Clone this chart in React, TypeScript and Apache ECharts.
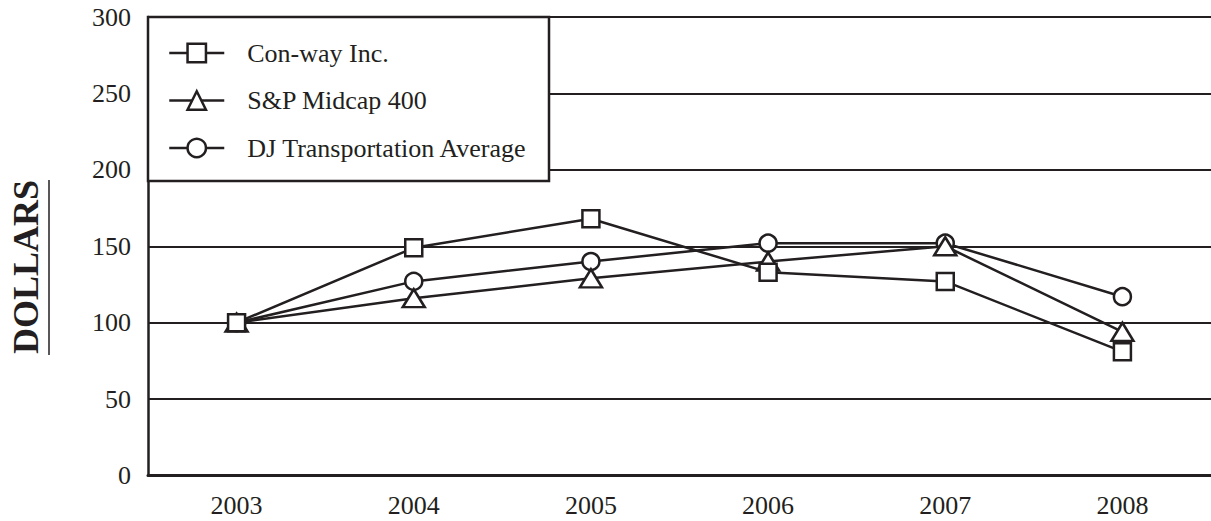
import React, { useEffect, useRef } from "react";
import * as echarts from "echarts";

const years = ["2003", "2004", "2005", "2006", "2007", "2008"];
const conway = [100, 149, 168, 133, 127, 81];
const midcap = [100, 116, 129, 140, 150, 94];
const djTrans = [100, 127, 140, 152, 152, 117];
const seriesNames = ["Con-way Inc.", "S&P Midcap 400", "DJ Transportation Average"];

const INK = "#231f20";
const FONT = "Liberation Serif, serif";

export default function App() {
  const ref = useRef<HTMLDivElement>(null);
  useEffect(() => {
    document.body.style.margin = "0";
    if (!ref.current) return;
    const chart = echarts.init(ref.current, undefined, { renderer: "svg" });
    const mk = (name: string, data: number[], symbol: string, size: any, z: number) => ({
      name,
      type: "line",
      data,
      symbol,
      symbolSize: size,
      z,
      lineStyle: { color: INK, width: 2.5 },
      itemStyle: { color: "#ffffff", borderColor: INK, borderWidth: 2.5 },
      emphasis: { disabled: true },
    });
    chart.setOption({
      animation: false,
      textStyle: { fontFamily: FONT },
      grid: { left: 148, right: 0, top: 17, bottom: 45.5, containLabel: false },
      xAxis: {
        type: "category",
        data: years,
        boundaryGap: true,
        axisLine: { lineStyle: { color: INK, width: 3 } },
        axisTick: { alignWithLabel: true, length: 10, lineStyle: { color: INK, width: 1.5 } },
        axisLabel: { color: INK, fontSize: 26, fontFamily: FONT, margin: 17 },
        splitLine: { show: false },
      },
      yAxis: {
        type: "value",
        min: 0,
        max: 300,
        interval: 50,
        axisLine: { show: true, lineStyle: { color: INK, width: 2.5 } },
        axisTick: { show: false },
        axisLabel: { color: INK, fontSize: 26, fontFamily: FONT, margin: 17 },
        splitLine: { show: true, lineStyle: { color: INK, width: 2 } },
      },
      legend: {
        data: seriesNames,
        orient: "vertical",
        left: 168,
        top: 40,
        padding: 0,
        itemWidth: 55,
        itemHeight: 23,
        itemGap: 21.5,
        z: 10,
        selectedMode: false,
        lineStyle: { color: INK, width: 2.5 },
        itemStyle: { color: "#ffffff", borderColor: INK, borderWidth: 2.5 },
        textStyle: { color: INK, fontSize: 26, lineHeight: 26, fontFamily: FONT, padding: [0, 0, 0, 18] },
      },
      graphic: [
        {
          type: "rect",
          z: 5,
          shape: { x: 148, y: 17, width: 401, height: 164 },
          style: { fill: "#ffffff", stroke: INK, lineWidth: 2.5 },
        },
        {
          type: "text",
          x: 26,
          y: 267,
          rotation: Math.PI / 2,
          style: {
            text: "DOLLARS",
            fill: INK,
            fontSize: 36,
            fontWeight: "bold",
            fontFamily: FONT,
            textAlign: "center",
            textVerticalAlign: "middle",
          },
        },
        {
          type: "line",
          shape: { x1: 49, y1: 180, x2: 49, y2: 355 },
          style: { stroke: INK, lineWidth: 1.5 },
        },
      ],
      series: [
        mk(seriesNames[0], conway, "rect", 17, 6),
        mk(seriesNames[1], midcap, "triangle", [22, 18], 5),
        mk(seriesNames[2], djTrans, "circle", 17, 4),
      ],
    });
    return () => chart.dispose();
  }, []);
  return <div ref={ref} style={{ width: 1211, height: 521 }} />;
}
